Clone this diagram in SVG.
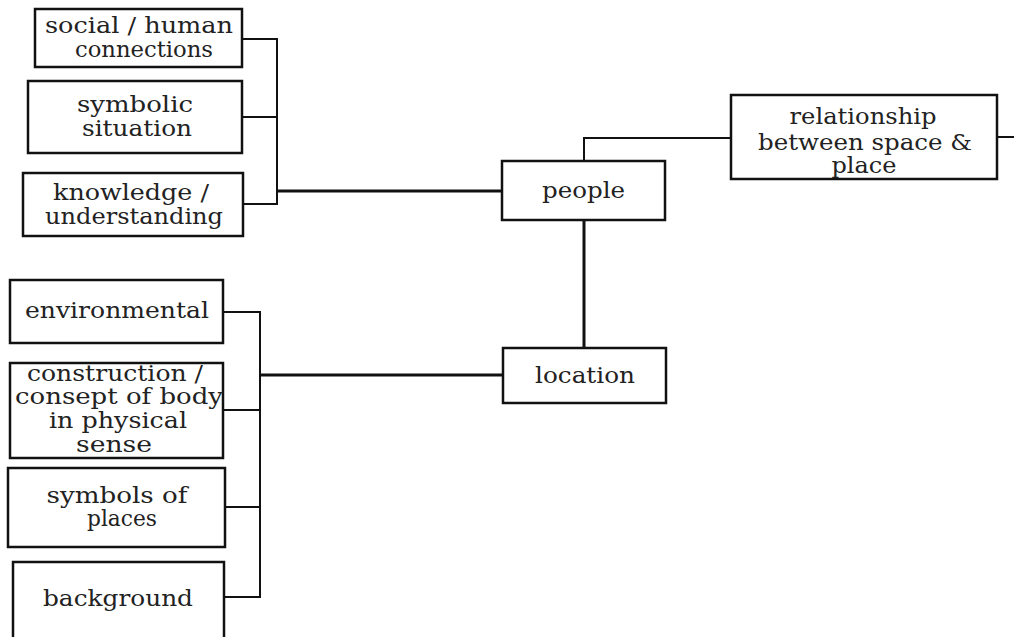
<svg xmlns="http://www.w3.org/2000/svg" width="1014" height="637" viewBox="0 0 1014 637">
  <style>
    .box { fill: #ffffff; stroke: #111111; stroke-width: 2.5; }
    .lbl { font-family: 'DejaVu Serif', 'Liberation Serif', serif; font-size: 22px; fill: #222222; text-anchor: middle; }
    .br { fill: none; stroke: #111111; stroke-width: 2; }
    .main { fill: none; stroke: #111111; stroke-width: 3; }
  </style>
  <rect width="1014" height="637" fill="#ffffff"/>

  <!-- connectors -->
  <g id="connectors">
    <!-- upper bracket into "people" -->
    <path class="br" d="M242 39 H277 V204 H243 M242 117 H277"/>
    <path class="main" d="M277 191 H502"/>
    <!-- people to relationship -->
    <path class="br" d="M584 161 V138 H731"/>
    <path class="br" d="M997 137 H1014"/>
    <!-- people to location -->
    <path class="main" d="M584 220 V348"/>
    <!-- lower bracket into "location" -->
    <path class="br" d="M223 312 H260 V597 H224 M223 410 H260 M225 507 H260"/>
    <path class="main" d="M260 375 H503"/>
  </g>

  <g id="social">
    <rect class="box" x="35" y="9" width="207" height="58"/>
    <text class="lbl" x="139" y="33" textLength="188" lengthAdjust="spacingAndGlyphs">social / human</text>
    <text class="lbl" x="144" y="57" textLength="138" lengthAdjust="spacingAndGlyphs">connections</text>
  </g>

  <g id="symbolic">
    <rect class="box" x="28" y="81" width="214" height="72"/>
    <text class="lbl" x="135" y="112" textLength="116" lengthAdjust="spacingAndGlyphs">symbolic</text>
    <text class="lbl" x="137" y="136" textLength="110" lengthAdjust="spacingAndGlyphs">situation</text>
  </g>

  <g id="knowledge">
    <rect class="box" x="23" y="173" width="220" height="63"/>
    <text class="lbl" x="131" y="200" textLength="156" lengthAdjust="spacingAndGlyphs">knowledge /</text>
    <text class="lbl" x="134" y="224" textLength="178" lengthAdjust="spacingAndGlyphs">understanding</text>
  </g>

  <g id="people">
    <rect class="box" x="502" y="161" width="163" height="59"/>
    <text class="lbl" x="583.5" y="198" textLength="83" lengthAdjust="spacingAndGlyphs">people</text>
  </g>

  <g id="relationship">
    <rect class="box" x="731" y="95" width="266" height="84"/>
    <text class="lbl" x="863" y="124" textLength="147" lengthAdjust="spacingAndGlyphs">relationship</text>
    <text class="lbl" x="865" y="150" textLength="214" lengthAdjust="spacingAndGlyphs">between space &amp;</text>
    <text class="lbl" x="864" y="173" textLength="65" lengthAdjust="spacingAndGlyphs">place</text>
  </g>

  <g id="location">
    <rect class="box" x="503" y="348" width="163" height="55"/>
    <text class="lbl" x="585" y="383" textLength="100" lengthAdjust="spacingAndGlyphs">location</text>
  </g>

  <g id="environmental">
    <rect class="box" x="10" y="280" width="213" height="63"/>
    <text class="lbl" x="117" y="318" textLength="184" lengthAdjust="spacingAndGlyphs">environmental</text>
  </g>

  <g id="construction">
    <rect class="box" x="10" y="363" width="213" height="95"/>
    <text class="lbl" x="115" y="381" textLength="176" lengthAdjust="spacingAndGlyphs">construction /</text>
    <text class="lbl" x="119" y="404" textLength="208" lengthAdjust="spacingAndGlyphs">consept of body</text>
    <text class="lbl" x="118" y="428" textLength="138" lengthAdjust="spacingAndGlyphs">in physical</text>
    <text class="lbl" x="114" y="452" textLength="76" lengthAdjust="spacingAndGlyphs">sense</text>
  </g>

  <g id="symbols">
    <rect class="box" x="8" y="468" width="217" height="79"/>
    <text class="lbl" x="117" y="503" textLength="141" lengthAdjust="spacingAndGlyphs">symbols of</text>
    <text class="lbl" x="122" y="526" textLength="70" lengthAdjust="spacingAndGlyphs">places</text>
  </g>

  <g id="background">
    <rect class="box" x="13" y="562" width="211" height="90"/>
    <text class="lbl" x="118" y="606" textLength="150" lengthAdjust="spacingAndGlyphs">background</text>
  </g>
</svg>
